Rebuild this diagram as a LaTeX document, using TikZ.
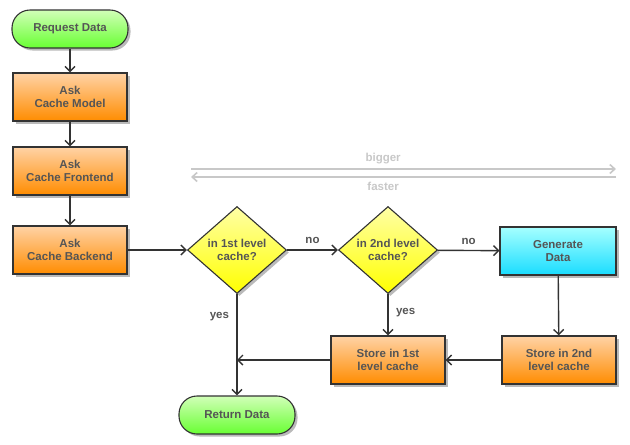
\documentclass[tikz,border=0pt]{standalone}
\usepackage{fontspec}
\setmainfont{Liberation Sans}
\usepackage{tikz}
\usetikzlibrary{shapes.geometric,shadows,arrows.meta}

\definecolor{txt}{HTML}{555555}
\definecolor{edge}{HTML}{333333}
\definecolor{hint}{HTML}{C8C8C8}

\begin{document}
\begin{tikzpicture}[
    x=1pt, y=-1pt,
    font=\fontsize{11.5}{13.5}\selectfont\bfseries,
    base/.style={draw=edge, line width=1.1pt, text=txt, align=center, inner sep=0pt,
      drop shadow={shadow xshift=2.5pt, shadow yshift=-2.5pt, fill=black!45, opacity=.6}},
    task/.style={base, rectangle, minimum width=114pt, minimum height=48pt,
      top color=orange!35!white, bottom color=orange!90!yellow},
    term/.style={base, rectangle, rounded corners=18pt, minimum width=116pt, minimum height=38pt,
      top color=green!20!white!90!yellow, bottom color=green!65!lime!80!white},
    test/.style={base, diamond, minimum width=99pt, minimum height=87pt,
      top color=yellow!35!white, bottom color=yellow},
    work/.style={base, rectangle, minimum width=116pt, minimum height=48pt,
      top color=cyan!35!white, bottom color=cyan!85!blue!90!white},
    flow/.style={draw=edge, line width=1.4pt, -{Straight Barb[length=5pt,width=10pt]}},
    note/.style={text=txt},
  ]
  \useasboundingbox (0,0) rectangle (630,445);

  \node[term] (req)  at (70,29)   {Request Data};
  \node[task] (mdl)  at (70,97)   {Ask\\Cache Model};
  \node[task] (fnt)  at (70,171)  {Ask\\Cache Frontend};
  \node[task] (bck)  at (70,250)  {Ask\\Cache Backend};
  \node[test] (lv1)  at (237,250) {in 1st level\\cache?};
  \node[test] (lv2)  at (388,250) {in 2nd level\\cache?};
  \node[work] (gen)  at (558,251) {Generate\\Data};
  \node[task] (st2)  at (559,360) {Store in 2nd\\level cache};
  \node[task] (st1)  at (388,360) {Store in 1st\\level cache};
  \node[term] (ret)  at (237,415) {Return Data};
  \coordinate (join) at (237,360);

  % speed / size hint
  \coordinate (hl) at (191,169);
  \coordinate (hr) at (616,169);
  \coordinate (fl) at (191,177);
  \coordinate (fr) at (616,177);
  \draw[hint, line width=1.6pt, -{Straight Barb[length=5pt,width=9pt]}] (hl) -- (hr)
    node[pos=.452, above=1pt, text=hint] (big) {bigger};
  \draw[hint, line width=1.6pt, -{Straight Barb[length=5pt,width=9pt]}] (fr) -- (fl)
    node[pos=.548, below=1pt, text=hint] (fst) {faster};

  \draw[flow] (req) -- (mdl);
  \draw[flow] (mdl) -- (fnt);
  \draw[flow] (fnt) -- (bck);
  \draw[flow] (bck) -- (lv1);
  \draw[flow] (lv1) -- node[note, above=2pt] (no1) {no} (lv2);
  \draw[flow] (lv2) -- node[note, above=2pt] (no2) {no} (gen);
  \draw[flow] (gen) -- (st2);
  \draw[flow] (st2) -- (st1);
  \draw[flow] (st1) -- (join);
  \draw[flow] (lv1) -- node[note, pos=.22, left=4pt] (ys1) {yes} (ret);
  \draw[flow] (lv2) -- node[note, pos=.45, right=4pt] (ys2) {yes} (st1);
\end{tikzpicture}
\end{document}
